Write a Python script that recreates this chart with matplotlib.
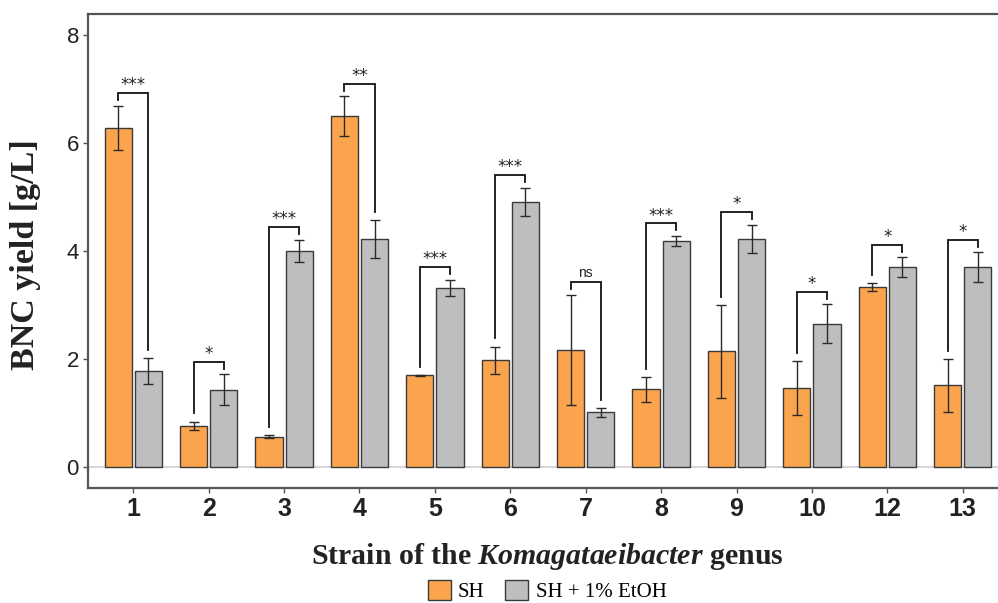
import matplotlib
matplotlib.use("Agg")
import matplotlib.pyplot as plt
from matplotlib.patches import Patch
import numpy as np

strains = ['1', '2', '3', '4', '5', '6', '7', '8', '9', '10', '12', '13']
sh = [6.28, 0.76, 0.56, 6.50, 1.70, 1.98, 2.17, 1.44, 2.14, 1.46, 3.33, 1.51]
sh_sd = [0.41, 0.08, 0.03, 0.37, 0.01, 0.25, 1.02, 0.23, 0.86, 0.50, 0.07, 0.49]
etoh = [1.78, 1.43, 4.00, 4.22, 3.32, 4.91, 1.01, 4.19, 4.23, 2.65, 3.70, 3.70]
etoh_sd = [0.24, 0.29, 0.21, 0.35, 0.15, 0.26, 0.08, 0.09, 0.26, 0.36, 0.19, 0.28]
signif = ['***', '*', '***', '**', '***', '***', 'ns', '***', '*', '*', '*', '*']
yticks = [0, 2, 4, 6, 8]

plt.rcParams['mathtext.fontset'] = 'custom'
plt.rcParams['mathtext.it'] = 'Liberation Serif:italic:bold'
plt.rcParams['mathtext.rm'] = 'Liberation Serif:bold'

W, H = 998, 603
fig = plt.figure(figsize=(W / 100, H / 100), dpi=100)
ax = fig.add_axes([88 / W, (H - 488) / H, 920 / W, (488 - 14) / H])

orange = '#FBA44E'
grey = '#BEBEBE'
edge = '#3A3A3A'
x = np.arange(1, len(strains) + 1)
off = 0.2
bw = 0.36

ax.axhline(0, color='#CFCFCF', lw=1.2, zorder=1)
ax.bar(x - off, sh, width=bw, color=orange, edgecolor=edge, linewidth=1.0, zorder=2)
ax.bar(x + off, etoh, width=bw, color=grey, edgecolor=edge, linewidth=1.0, zorder=2)
ax.errorbar(x - off, sh, yerr=sh_sd, fmt='none', ecolor='#2a2a2a', elinewidth=1.0,
            capsize=3.5, capthick=1.0, zorder=3)
ax.errorbar(x + off, etoh, yerr=etoh_sd, fmt='none', ecolor='#2a2a2a', elinewidth=1.0,
            capsize=3.5, capthick=1.0, zorder=3)

for i in range(len(strains)):
    t1 = sh[i] + sh_sd[i]
    t2 = etoh[i] + etoh_sd[i]
    top = max(t1, t2) + 0.23
    l1 = min(t1 + 0.15, top - 0.13)
    l2 = min(t2 + 0.15, top - 0.13)
    xa, xb = x[i] - off, x[i] + off
    ax.plot([xa, xa, xb, xb], [l1, top, top, l2], color='#111111', lw=1.3,
            solid_joinstyle='miter', zorder=4)
    s = signif[i]
    if s == 'ns':
        ax.text(x[i], top + 0.05, s, ha='center', va='bottom', fontsize=10,
                family='Liberation Sans', color='#222222')
    else:
        ax.text(x[i], top - 0.02, s, ha='center', va='bottom', fontsize=12,
                family='DejaVu Sans', color='#222222')

ax.set_xlim(0.4, 12.6)
ax.set_ylim(-0.39, 8.39)
ax.set_xticks(x)
ax.set_xticklabels(strains, fontsize=18, fontweight='bold', family='Liberation Sans',
                   color='#222222')
ax.set_yticks(yticks)
ax.set_yticklabels([str(v) for v in yticks], fontsize=16, family='Liberation Sans',
                   color='#222222')
ax.tick_params(axis='both', length=3.5, width=1.0, color='#555555', pad=3)
for sp in ax.spines.values():
    sp.set_color('#555555')
    sp.set_linewidth(1.6)

fig.text(547 / W, 1 - 557 / H, r'Strain of the $\mathit{Komagataeibacter}$ genus',
         ha='center', va='center', fontsize=21.5, fontweight='bold',
         family='Liberation Serif', color='#222222')
fig.text(26 / W, 1 - 255 / H, 'BNC yield [g/L]', ha='center', va='center',
         rotation=90, fontsize=24.5, fontweight='bold', family='Liberation Serif',
         color='#222222')

handles = [Patch(facecolor=orange, edgecolor=edge, lw=1.0, label='SH'),
           Patch(facecolor=grey, edgecolor=edge, lw=1.0, label='SH + 1% EtOH')]
leg = fig.legend(handles=handles, loc='center', bbox_to_anchor=(547 / W, 1 - 591 / H),
                 ncol=2, frameon=False, prop={'family': 'Liberation Serif', 'size': 15},
                 handlelength=1.1, handleheight=1.1, handletextpad=0.35,
                 columnspacing=1.0, borderpad=0)

fig.savefig('out.png', dpi=100)
